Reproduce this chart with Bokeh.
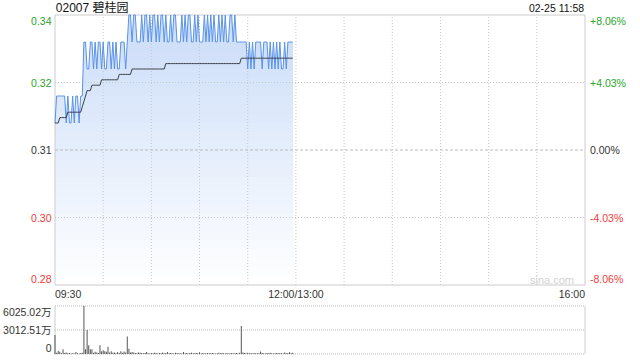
import numpy as np
from bokeh.plotting import figure
from bokeh.models import Range1d, Label
from bokeh.embed import file_html
from bokeh.resources import INLINE

# ---------------- data ----------------
title_text = "02007 碧桂园"
stamp_text = "02-25 11:58"
source_text = "sina.com"
prev_close = 0.31

# one value per trading minute from 09:30 to 11:58
price = ([0.315] + [0.320] * 6 +
         [0.315, 0.320, 0.315, 0.315, 0.320, 0.315, 0.320, 0.320, 0.315, 0.320, 0.320] +
         [0.330, 0.330, 0.325, 0.325, 0.330, 0.330, 0.325, 0.330, 0.325, 0.330,
          0.330, 0.325, 0.330, 0.325, 0.325, 0.330, 0.330, 0.325, 0.330, 0.325,
          0.330, 0.325, 0.325, 0.330, 0.330, 0.330, 0.325, 0.330] +
         [0.335, 0.335, 0.330, 0.335, 0.335, 0.330, 0.330, 0.330, 0.335, 0.330,
          0.335, 0.335, 0.330, 0.335, 0.330, 0.335, 0.335, 0.330, 0.335, 0.330,
          0.335, 0.335, 0.330, 0.335, 0.330, 0.330, 0.335, 0.330, 0.335, 0.335,
          0.330, 0.330, 0.330, 0.335, 0.330, 0.335, 0.330, 0.335, 0.335, 0.330,
          0.330, 0.335, 0.330, 0.335, 0.330, 0.330, 0.330, 0.335, 0.330, 0.335,
          0.330, 0.335, 0.330, 0.335, 0.330, 0.330, 0.335, 0.330, 0.335, 0.330,
          0.335, 0.330, 0.330, 0.335, 0.335, 0.330, 0.335, 0.330, 0.330, 0.330] +
         [0.330] * 4 +
         [0.325, 0.330, 0.325, 0.330, 0.325, 0.330, 0.330, 0.330, 0.330, 0.325,
          0.330, 0.330, 0.330, 0.325, 0.330, 0.325, 0.330, 0.325, 0.330, 0.325,
          0.330, 0.325, 0.325, 0.330, 0.325, 0.330, 0.330, 0.330, 0.330])

avg_price = ([0.315] * 3 + [0.316] * 5 + [0.317] * 9 + [0.318] + [0.319] + [0.320] +
             [0.321] * 3 + [0.322] * 6 + [0.323] * 11 + [0.324] * 8 + [0.325] * 21 +
             [0.326] * 47 + [0.327] * 33)

volume = [2400, 150, 400, 280, 100, 600, 120, 200, 80, 120,
          60, 100, 50, 250, 80, 60, 120, 150, 6025.02, 600,
          3000, 1100, 600, 600, 150, 280, 200, 120, 1100, 350,
          480, 350, 280, 900, 200, 350, 150, 200, 100, 250,
          120, 350, 150, 300, 200, 2200, 650, 200, 250,
          180, 120, 90, 200, 150, 110, 80, 140, 260, 100,
          70, 130, 90, 160, 110, 60, 120, 90, 180, 100,
          140, 250, 80, 110, 90, 60, 150, 120, 80, 100,
          70, 240, 90, 130, 60, 110, 150, 80, 100, 120,
          90, 230, 70, 110, 60, 90, 140, 80, 100, 120,
          70, 60, 90, 150, 80, 110, 100, 70, 130, 60,
          90, 120, 80, 100, 110, 70, 160,
          3500,
          200, 120, 90, 150, 80, 110, 70, 130, 90, 100,
          80, 300, 120, 90, 70, 110, 80, 150, 100, 60,
          90, 120, 80, 140, 100, 70, 180, 90, 110, 220,
          100, 160]

price_ticks = [0.335, 0.3225, 0.31, 0.2975, 0.285]
price_labels = ["0.34", "0.32", "0.31", "0.30", "0.28"]
pct_labels = ["+8.06%", "+4.03%", "0.00%", "-4.03%", "-8.06%"]
time_ticks = [0, 150, 330]
time_labels = ["09:30", "12:00/13:00", "16:00"]
time_grid = list(range(30, 330, 30))       # half-hour grid lines
vol_ticks = [6025.02, 3012.51, 0]
vol_labels = ["6025.02万", "3012.51万", "0"]

# ---------------- layout / styling ----------------
GREEN = "#2ba52b"
RED = "#f23b3b"
DARK = "#333333"
label_colors = [GREEN, GREEN, DARK, RED, RED]
FONT = "Liberation Sans, Noto Sans CJK SC"
FS = "10.5px"
W, H = 640, 360

minutes = list(range(len(price)))
X0, X1 = time_ticks[0], time_ticks[-1]
Y0, Y1 = price_ticks[-1], price_ticks[0]
VMAX = vol_ticks[0]

# pixel placement of the two panels inside the canvas
PL, PR = 54.5, 584.5          # left / right edge of chart boxes
PT, PB = 14.5, 284.5          # price panel top / bottom
VT, VB = 305.5, 353.5         # volume panel top / bottom

xpp = (X1 - X0) / (PR - PL)
upp = (Y1 - Y0) / (PB - PT)
vpp = VMAX / (VB - VT)

p = figure(frame_width=W, frame_height=H, min_border=0,
           x_range=Range1d(X0 - PL * xpp, X1 + (W - PR) * xpp),
           y_range=Range1d(Y0 - (H - PB) * upp, Y1 + PT * upp),
           x_axis_type=None, y_axis_type=None,
           toolbar_location=None, output_backend="svg")
p.extra_y_ranges = {"vol": Range1d(0 - (H - VB) * vpp, VMAX + VT * vpp)}
p.outline_line_color = None
p.background_fill_color = "white"
p.border_fill_color = "white"


def add_text(x, y, text, color, align="left", size=FS, yname="default"):
    p.add_layout(Label(x=x, y=y, x_units="data", y_units="data", text=text,
                       y_range_name=yname,
                       text_align=align, text_baseline="middle", text_color=color,
                       text_font=FONT, text_font_size=size))


# gradient fill under the price line (layered)
price_arr = np.array(price)
K = 30
top_rgb = np.array([202, 220, 248])
bot_rgb = np.array([255, 255, 255])
step = (Y1 - Y0) / K
for k in range(K):
    upper = Y1 - k * step
    t = (upper - step / 2 - Y0) / (Y1 - Y0)
    c = bot_rgb + (top_rgb - bot_rgb) * t
    col = "#%02x%02x%02x" % tuple(int(round(v)) for v in c)
    p.varea(x=minutes, y1=Y0, y2=np.minimum(price_arr, upper), fill_color=col)

# price panel grid lines
n = len(time_grid)
p.segment(x0=time_grid, y0=[Y0] * n, x1=time_grid, y1=[Y1] * n,
          line_color="#c8c8c8", line_dash="1 2", line_width=1)
hz = [price_ticks[1], price_ticks[3]]
p.segment(x0=[X0] * 2, y0=hz, x1=[X1] * 2, y1=hz,
          line_color="#c8c8c8", line_dash="1 2", line_width=1)
p.segment(x0=[X0], y0=[prev_close], x1=[X1], y1=[prev_close],
          line_color="#bbbbbb", line_dash="3 2", line_width=1)
# price panel frame
p.segment(x0=[X0, X1, X0, X0], y0=[Y0, Y0, Y0, Y1], x1=[X0, X1, X1, X1], y1=[Y1, Y1, Y0, Y1],
          line_color="#cccccc", line_width=1)

p.line(minutes, price, line_color="#5a93ea", line_width=1)
p.line(minutes, avg_price, line_color="#3a3f48", line_width=1)

# y labels (nudged inside at the extremes like the original)
nudge = [6 * upp, 0, 0, 0, -6 * upp]
for tk, nd, lab, pct, colr in zip(price_ticks, nudge, price_labels, pct_labels, label_colors):
    add_text(X0 - 3.5 * xpp, tk - nd, lab, colr, "right")
    add_text(X1 + 5 * xpp, tk - nd, pct, colr, "left")

# time labels
ty = Y0 - 9 * upp
for tk, lab, al in zip(time_ticks, time_labels, ["left", "center", "right"]):
    add_text(tk, ty, lab, DARK, al)

# header texts
hy = Y1 + 7 * upp
add_text(X0 + 0.5, hy, title_text, "#111111", "left", "12px")
add_text(X1 - 0.5, hy, stamp_text, "#111111", "right")
add_text(X1 - 11 * xpp, Y0 + 5 * upp, source_text, "#d2d2d2", "right", "11px")

# ---------------- volume panel ----------------
m = len(vol_ticks)
p.segment(x0=[X0] * m, y0=vol_ticks, x1=[X1] * m, y1=vol_ticks, y_range_name="vol",
          line_color="#bbbbbb", line_dash="1 1", line_width=1)
p.segment(x0=[X0, X1], y0=[0, 0], x1=[X0, X1], y1=[VMAX, VMAX], y_range_name="vol",
          line_color="#cccccc", line_width=1)
p.vbar(x=minutes, top=volume, bottom=0, width=0.62, fill_color="#555555",
       line_color=None, y_range_name="vol")

vnudge = [5.7 * vpp, 0, -5.7 * vpp]
for tk, nd, lab in zip(vol_ticks, vnudge, vol_labels):
    add_text(X0 - 3.5 * xpp, tk - nd, lab, DARK, "right", yname="vol")

open("out.html", "w").write(file_html(p, INLINE))
